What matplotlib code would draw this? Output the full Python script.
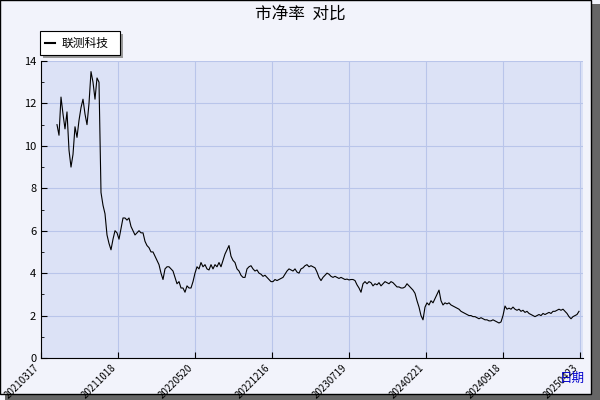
import matplotlib
matplotlib.use("Agg")
import matplotlib.pyplot as plt
from matplotlib.patches import Rectangle

plt.rcParams['font.family'] = ['Noto Sans CJK SC', 'DejaVu Sans']

tick_labels = ["20210317", "20211018", "20220520", "20221216", "20230719", "20240221", "20240918", "20250423"]
series_name = "联测科技"
pb = [11.0, 10.5, 12.3, 11.5, 10.8, 11.6, 9.8, 9.0, 9.6, 10.9, 10.4, 11.2, 11.8, 12.2, 11.5, 11.0, 12.0, 13.5,
      13.0, 12.2, 13.2, 13.0, 7.8, 7.2, 6.8, 5.8, 5.4, 5.1, 5.6, 6.0, 5.9, 5.6, 6.1, 6.6, 6.6, 6.5, 6.6, 6.2, 6.0,
      5.8, 5.9, 6.0, 5.9, 5.9, 5.5, 5.3, 5.2, 5.0, 5.0, 4.8, 4.6, 4.4, 4.0, 3.7, 4.2, 4.3, 4.3, 4.2, 4.1, 3.8, 3.5,
      3.6, 3.3, 3.3, 3.1, 3.4, 3.3, 3.3, 3.6, 4.0, 4.3, 4.2,
      4.5, 4.3, 4.4, 4.2, 4.15, 4.4, 4.2, 4.4, 4.3, 4.5, 4.3, 4.6, 4.9, 5.1, 5.3, 4.8, 4.6, 4.5, 4.2, 4.1, 3.9,
      3.8, 3.8, 4.2, 4.3, 4.35, 4.2, 4.1, 4.15, 4.0, 3.95, 3.85, 3.9, 3.8, 3.7, 3.6, 3.6, 3.7, 3.65, 3.7, 3.75,
      3.8, 3.95, 4.1, 4.2, 4.15, 4.1, 4.2, 4.05, 4.0, 4.2, 4.25, 4.35, 4.4, 4.3, 4.35, 4.3, 4.25, 4.05, 3.8, 3.65,
      3.8, 3.9, 4.0, 3.95, 3.85, 3.8, 3.85, 3.8, 3.75, 3.8, 3.75, 3.7, 3.72, 3.68, 3.7, 3.7, 3.65, 3.45, 3.3, 3.1,
      3.5, 3.6, 3.5, 3.6, 3.55, 3.4, 3.5, 3.45, 3.55, 3.4, 3.5, 3.6, 3.55, 3.5, 3.6, 3.55, 3.45, 3.35, 3.35, 3.3,
      3.3, 3.35, 3.5, 3.4, 3.3, 3.2, 3.05, 2.7, 2.4, 2.0, 1.8, 2.4, 2.6, 2.5, 2.7, 2.6, 2.8, 3.0, 3.2, 2.7, 2.5,
      2.6, 2.55, 2.6, 2.5, 2.45, 2.4, 2.35, 2.3, 2.2, 2.15, 2.1, 2.05, 2.0, 2.0, 1.95, 1.95, 1.9, 1.85, 1.9, 1.85,
      1.8, 1.8, 1.75, 1.75, 1.8, 1.75, 1.7, 1.65, 1.7, 2.0, 2.45, 2.3, 2.35, 2.3, 2.4, 2.3, 2.25, 2.3, 2.2, 2.25,
      2.15, 2.2, 2.1, 2.05, 2.0, 1.95, 2.0, 2.05, 2.0, 2.1, 2.05, 2.1, 2.15, 2.1, 2.2, 2.2, 2.25, 2.3, 2.25, 2.3,
      2.2, 2.1, 1.95, 1.85, 1.95, 2.0, 2.05, 2.2]

fig = plt.figure(figsize=(6, 4), dpi=100)
fig.patch.set_facecolor("#f2f3fb")
# shadow frame
fig.add_artist(Rectangle((0.008, 0.0), 0.992, 0.99, transform=fig.transFigure, facecolor="#666666", edgecolor="none", zorder=-2))
fig.add_artist(Rectangle((0.0, 0.015), 0.985, 0.985, transform=fig.transFigure, facecolor="#f2f3fb", edgecolor="black", lw=1, zorder=-1))

ax = fig.add_axes([41/600, 1-358/400, (583-41)/600, (358-61)/400])
ax.set_facecolor("#dce2f6")
x = list(range(len(pb)))
ax.plot(x, pb, color="black", lw=0.8)
ax.set_xlim(-8, 263)
ax.set_ylim(0, 14)
ticks = [-8 + 38.5 * k for k in range(len(tick_labels))]
ax.set_xticks(ticks)
ax.set_xticklabels(tick_labels, rotation=45, ha="right", fontsize=7)
ax.set_yticks(range(0, 15, 2))
ax.set_yticks(range(1, 15, 2), minor=True)
ax.tick_params(axis="y", labelsize=8, direction="in", length=4)
ax.tick_params(axis="y", which="minor", direction="in", length=2)
ax.tick_params(axis="x", direction="in", length=4)
ax.grid(True, color="#b9c5ea", lw=0.8)
for s in ["top", "right"]:
    ax.spines[s].set_visible(False)

fig.text(0.5, 0.965, "市净率  对比", ha="center", va="center", fontsize=12)
fig.text(0.975, 0.055, "日期", ha="right", va="center", fontsize=9, color="#0000cc")

# legend box
fig.add_artist(Rectangle((43/600, 1-58/400), 80/600, 24/400, transform=fig.transFigure, facecolor="#999999", edgecolor="none"))
fig.add_artist(Rectangle((40/600, 1-55/400), 80/600, 24/400, transform=fig.transFigure, facecolor="white", edgecolor="black", lw=0.8))
fig.add_artist(plt.Line2D([45/600, 55/600], [1-43/400, 1-43/400], transform=fig.transFigure, color="black", lw=1.5))
fig.text(62/600, 1-43/400, series_name, va="center", fontsize=8.5)

fig.savefig("out.png", dpi=100, facecolor=fig.get_facecolor())
